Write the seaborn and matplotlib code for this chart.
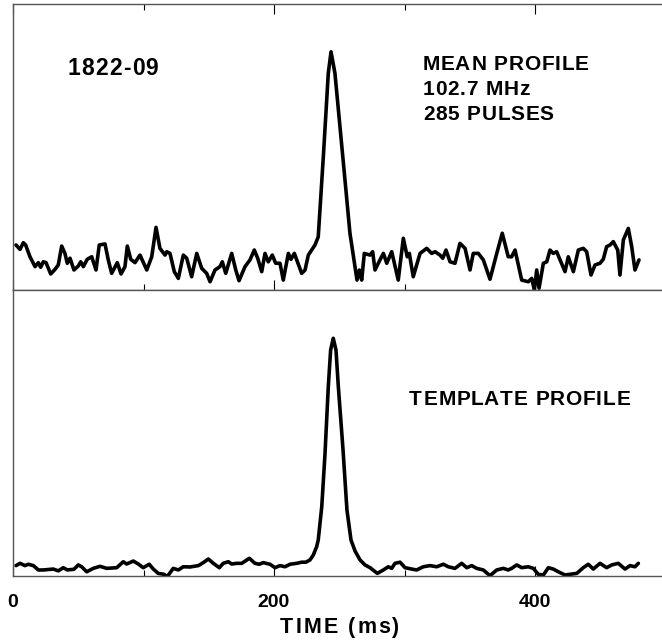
import numpy as np
import pandas as pd
import matplotlib
matplotlib.use("Agg")
import matplotlib.pyplot as plt
from matplotlib.transforms import offset_copy
from matplotlib import font_manager, ft2font
from matplotlib.font_manager import FontProperties
import seaborn as sns

# ---- data ----
mean_time = [2.3, 5.4, 7.9, 9.7, 13.0, 16.9, 19.4, 21.2, 23.2, 25.3, 28.9, 32.2, 34.7, 37.3, 39.8,
             41.6, 43.7, 46.7, 50.0, 51.9, 53.9, 56.9, 60.3, 63.6, 66.1, 70.5, 73.0, 75.6, 79.9, 82.8,
             85.8, 87.6, 90.2, 93.5, 97.3, 102.5, 106.3, 109.6, 112.6, 116.5, 117.8, 120.3, 123.6,
             126.7, 130.5, 133.1, 136.9, 140.8, 144.6, 148.4, 151.0, 154.8, 158.6, 160.4, 163.0,
             167.6, 170.7, 173.2, 177.8, 181.6, 184.9, 187.5, 190.6, 193.1, 195.6, 198.7, 201.3,
             204.6, 207.1, 211.0, 213.0, 215.6, 221.2, 223.8, 226.3, 231.4, 233.9, 237.8, 241.6,
             243.7, 246.7, 250.6, 254.4, 258.2, 262.1, 263.6, 265.4, 267.2, 269.2, 273.6, 275.6,
             277.4, 281.2, 283.8, 286.4, 290.2, 295.2, 299.1, 302.1, 303.7, 306.7, 311.9, 317.0,
             320.8, 323.4, 327.2, 329.3, 331.8, 334.9, 338.7, 342.5, 346.4, 350.2, 352.7, 356.6,
             360.4, 365.5, 370.7, 374.9, 379.5, 382.1, 384.7, 389.8, 394.9, 397.5, 399.5, 401.3,
             403.1, 406.4, 409.0, 411.5, 414.0, 416.6, 423.0, 425.5, 429.4, 433.2, 437.0, 439.6,
             442.9, 446.0, 449.8, 452.3, 454.9, 457.5, 460.0, 463.4, 465.1, 467.7, 471.5, 474.1,
             476.6, 479.7]
mean_intensity = [0.081, 0.060, 0.092, 0.081, 0.025, -0.022, -0.003, -0.025, 0.001, -0.003, -0.057,
                  -0.035, -0.014, 0.076, 0.041, -0.006, 0.018, -0.038, -0.019, 0.001, -0.022, 0.013,
                  0.025, -0.038, 0.081, 0.086, 0.010, -0.054, -0.003, -0.057, -0.022, 0.076, 0.013,
                  -0.003, 0.033, -0.038, 0.025, 0.165, 0.065, 0.033, 0.049, 0.041, -0.046, -0.078,
                  0.033, 0.018, -0.070, 0.041, -0.030, -0.054, -0.094, -0.038, -0.022, 0.001, -0.054,
                  0.041, -0.038, -0.089, -0.022, 0.010, 0.057, 0.018, -0.046, 0.041, 0.001, 0.033,
                  -0.006, -0.006, -0.086, 0.041, 0.013, 0.041, -0.054, -0.038, 0.033, 0.081, 0.120,
                  0.501, 0.899, 1.001, 0.899, 0.644, 0.390, 0.137, -0.022, -0.086, -0.038, -0.086,
                  0.041, 0.033, 0.049, -0.038, 0.010, 0.041, -0.006, 0.049, -0.086, 0.113, 0.025,
                  0.041, -0.070, 0.041, 0.065, 0.041, 0.049, 0.033, 0.018, 0.057, 0.001, -0.006,
                  0.089, 0.065, -0.038, 0.041, 0.041, 0.010, -0.082, 0.041, 0.137, 0.025, 0.025,
                  0.057, -0.086, -0.094, -0.078, -0.133, -0.038, -0.125, -0.006, 0.001, 0.057, 0.041,
                  0.049, -0.046, 0.025, -0.046, 0.057, 0.065, 0.049, -0.062, -0.014, -0.006, 0.013,
                  0.073, 0.081, 0.097, 0.057, -0.062, 0.105, 0.160, 0.073, -0.038, 0.010]

template_time = [2.3, 5.4, 9.2, 11.7, 15.6, 19.4, 23.2, 30.9, 34.7, 38.5, 41.6, 46.7, 50.0, 52.6,
                 56.5, 61.5, 66.7, 71.8, 79.5, 84.5, 87.1, 92.2, 96.0, 99.8, 104.4, 107.5, 111.3,
                 115.7, 118.2, 122.8, 126.7, 130.5, 135.6, 142.0, 145.8, 149.7, 153.5, 158.1, 161.1,
                 165.0, 167.6, 171.4, 175.3, 181.1, 185.4, 188.7, 191.8, 196.9, 200.8, 204.6, 208.4,
                 212.3, 217.4, 221.2, 224.5, 227.6, 230.1, 232.7, 233.9, 236.6, 239.1, 241.6, 243.4,
                 245.4, 247.5, 249.3, 252.9, 255.9, 259.0, 262.1, 265.9, 269.7, 273.6, 279.2, 283.8,
                 287.6, 290.2, 292.7, 296.6, 300.4, 305.5, 309.3, 314.4, 319.5, 324.7, 329.7, 333.6,
                 338.7, 343.8, 347.7, 351.5, 355.3, 360.4, 365.5, 370.7, 375.7, 379.5, 382.1, 386.0,
                 389.8, 394.9, 398.7, 402.5, 406.4, 410.2, 414.0, 417.9, 423.0, 426.8, 432.0, 437.0,
                 440.8, 444.7, 449.8, 454.9, 458.8, 463.8, 469.0, 472.8, 476.6, 479.2]
template_intensity = [0.006, 0.016, 0.006, 0.012, 0.006, -0.013, -0.013, -0.009, -0.017, -0.003,
                      -0.013, -0.010, 0.009, 0.001, -0.021, -0.006, 0.003, -0.006, -0.003, 0.023,
                      0.013, 0.026, 0.013, -0.003, 0.012, -0.009, -0.028, -0.032, -0.042, -0.006,
                      -0.013, 0.001, 0.000, 0.006, 0.019, 0.035, 0.016, -0.003, 0.016, 0.023, 0.013,
                      0.016, 0.016, 0.038, 0.016, 0.012, 0.019, 0.012, -0.003, 0.006, 0.001, 0.012,
                      0.016, 0.021, 0.021, 0.031, 0.052, 0.089, 0.118, 0.264, 0.497, 0.788, 0.949,
                      1.000, 0.949, 0.788, 0.512, 0.249, 0.118, 0.070, 0.031, 0.009, -0.003, -0.028,
                      -0.013, 0.001, -0.006, 0.016, 0.021, -0.003, -0.009, -0.013, 0.001, 0.006,
                      0.001, 0.012, 0.001, -0.006, 0.016, -0.003, 0.006, -0.006, -0.013, -0.038,
                      -0.013, -0.006, -0.013, -0.006, 0.009, -0.003, 0.001, -0.006, -0.032, -0.035,
                      -0.003, -0.009, -0.021, -0.035, -0.032, -0.028, -0.003, 0.012, -0.009, 0.016,
                      -0.003, 0.009, 0.016, -0.009, 0.006, 0.001, 0.016]

tick_values = [0, 200, 400]
tick_labels = ["0", "200", "400"]
minor_ticks = [100, 300]
source_name = "1822-09"
mean_lines = ["MEAN PROFILE", "102.7 MHz", "285 PULSES"]
template_label = "TEMPLATE PROFILE"
x_label = "TIME (ms)"

# ---- style ----
sns.set_style("white")
plt.rcParams['font.family'] = ['Liberation Sans', 'DejaVu Sans']
plt.rcParams['font.weight'] = 'bold'
plt.rcParams['text.color'] = 'black'
plt.rcParams['xtick.color'] = 'black'
plt.rcParams['axes.labelcolor'] = 'black'

W, H, DPI = 662, 643, 100
fig = plt.figure(figsize=(W / DPI, H / DPI), dpi=DPI)

FONT_PATH = font_manager.findfont(FontProperties(family="Liberation Sans", weight="bold"))
try:
    NOHINT = ft2font.LoadFlags.NO_HINTING
except AttributeError:
    NOHINT = ft2font.LOAD_NO_HINTING


def px_axes(x0, y0, x1, y1):
    return fig.add_axes([x0 / W, 1 - y1 / H, (x1 - x0) / W, (y1 - y0) / H])


def tracked_text(trans, x, y, s, size, track_px, ha="left"):
    """Bold text with extra letter spacing (tracking), baseline at (x, y)."""
    font = ft2font.FT2Font(FONT_PATH)
    font.set_size(size, DPI)
    pen = 0.0
    placed = []
    for ch in s:
        g = font.load_char(ord(ch), flags=NOHINT)
        lsb = g.horiBearingX / 64.0
        if ch != " ":
            placed.append((ch, pen + lsb))
        pen += g.linearHoriAdvance / 65536.0 + track_px
    first = placed[0][1]
    total = pen - track_px - first
    shift = {"left": -first, "center": -first - total / 2, "right": -first - total}[ha]
    for ch, off in placed:
        tr = offset_copy(trans, fig=fig, x=(off + shift) * 72 / DPI, y=0, units="points")
        fig.text(x, y, ch, transform=tr, fontsize=size, fontweight="bold",
                 ha="left", va="baseline", color="black")


ax_top = px_axes(13, 4, 665.5, 290)
ax_bot = px_axes(13, 290, 665.5, 576)

df_mean = pd.DataFrame({"time": mean_time, "intensity": mean_intensity})
df_tmpl = pd.DataFrame({"time": template_time, "intensity": template_intensity})

sns.lineplot(data=df_mean, x="time", y="intensity", ax=ax_top, color="black", lw=2.6,
             solid_joinstyle="round", solid_capstyle="round")
sns.lineplot(data=df_tmpl, x="time", y="intensity", ax=ax_bot, color="black", lw=2.6,
             solid_joinstyle="round", solid_capstyle="round")

ax_top.set_ylim(-0.1333, 1.2286)
ax_bot.set_ylim(-0.0394, 1.2112)

for ax in (ax_top, ax_bot):
    ax.set_xlim(0, 500)
    ax.set_xlabel("")
    ax.set_ylabel("")
    ax.set_yticks([])
    for s in ax.spines.values():
        s.set_color("#555555")
        s.set_linewidth(1.0)
    ax.set_xticks(tick_values)
    ax.set_xticks(minor_ticks, minor=True)

ax_top.tick_params(axis="x", which="major", direction="in", length=7.5, width=0.8,
                   color="black", top=True, bottom=True, labelbottom=False)
ax_top.tick_params(axis="x", which="minor", direction="in", length=4, width=0.8,
                   color="black", top=True, bottom=True)
ax_bot.tick_params(axis="x", which="major", direction="in", length=7, width=0.8,
                   color="black", top=False, bottom=True, labelbottom=True, pad=13,
                   labelsize=14, labelcolor="black")
ax_bot.tick_params(axis="x", which="minor", direction="in", length=4, width=0.8,
                   color="black", top=False, bottom=True)
ax_bot.set_xticklabels(tick_labels, fontweight="bold")

# annotations
tracked_text(ax_top.transData, 42, 0.890, source_name, 16.5, 1.2)
for txt, yv in zip(mean_lines, [0.914, 0.795, 0.676]):
    tracked_text(ax_top.transData, 314, yv, txt, 15, 0.75)
tracked_text(ax_bot.transData, 303.4, 0.708, template_label, 15, 0.75)

# x-axis title
tracked_text(fig.transFigure, 339 / W, 1 - 633 / H, x_label, 15.5, 2.0, ha="center")

fig.savefig("out.png", dpi=DPI)
